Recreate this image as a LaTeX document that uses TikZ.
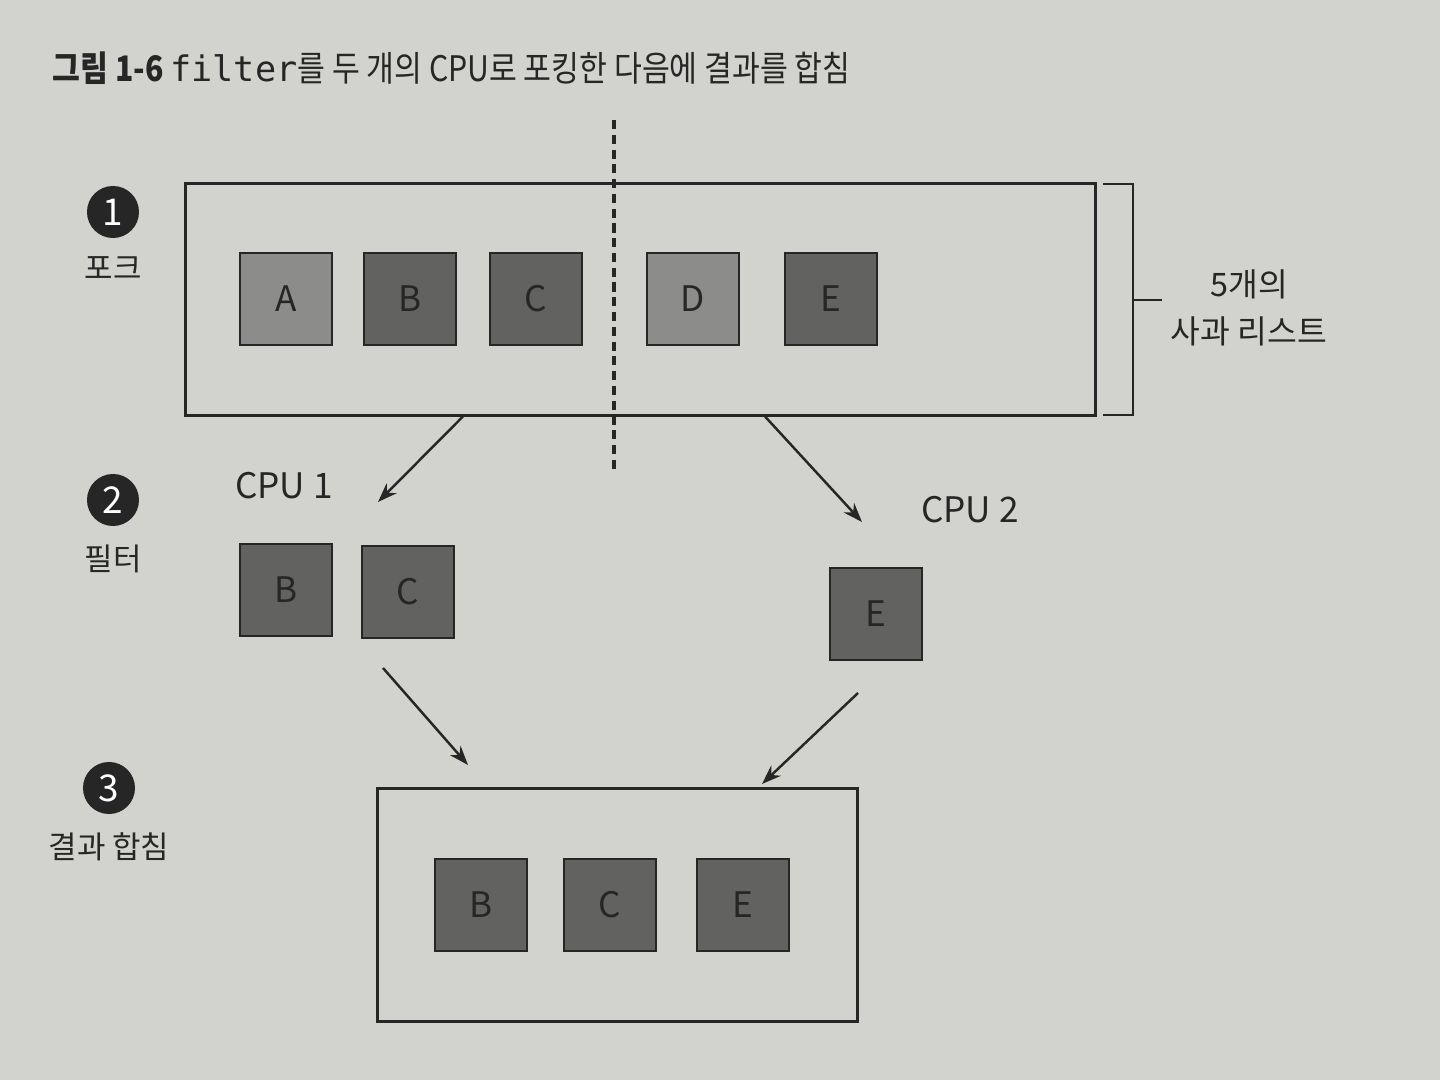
\documentclass[tikz,border=0pt]{standalone}
\usepackage{fontspec}
\setmainfont{Noto Sans CJK KR}
\newfontfamily\titlefont[FakeStretch=0.86]{Noto Sans CJK KR}
\newfontfamily\codefont{DejaVu Sans Mono}
\usetikzlibrary{positioning,arrows.meta}
\definecolor{paper}{RGB}{210,210,206}
\definecolor{applelight}{RGB}{140,140,138}
\definecolor{appledark}{RGB}{98,98,97}
\definecolor{ink}{RGB}{38,38,38}
\begin{document}
\begin{tikzpicture}[x=0.01cm,y=-0.01cm,
  frame/.style={draw=ink,line width=0.85pt,inner sep=0pt},
  apple/.style={draw=ink,line width=0.8pt,minimum size=0.92cm,inner sep=0pt,
    text=ink,font=\fontsize{10}{10}\selectfont},
  stepdot/.style={circle,fill=ink,minimum size=0.52cm,inner sep=0pt,
    text=white,font=\fontsize{10.5}{10.5}\selectfont},
  steplabel/.style={text=ink,font=\fontsize{8.8}{8.8}\selectfont},
  cpulabel/.style={text=ink,font=\fontsize{10}{10}\selectfont},
  arr/.style={draw=ink,line width=0.7pt,-{Stealth[length=5.5pt,width=4pt]}}]
\fill[paper] (0,0) rectangle (1440,1080);
\useasboundingbox (0,0) rectangle (1440,1080);
% title
\node[anchor=west,inner sep=0pt,text=ink,font=\titlefont\fontsize{10}{10}\selectfont] (title) at (52,68)
  {{\bfseries 그림 1-6} {\codefont filter}를 두 개의 CPU로 포킹한 다음에 결과를 합침};
% steps
\node[stepdot] (s1) at (113,212) {1};
\node[steplabel,below=1.5pt of s1] (l1) {포크};
\node[stepdot] (s2) at (113,500) {2};
\node[steplabel,below=1.5pt of s2] (l2) {필터};
\node[stepdot] (s3) at (109,788) {3};
\node[steplabel,below=1.5pt of s3] (l3) {결과 합침};
% 1: fork
\node[frame,minimum width=9.09cm,minimum height=2.31cm] (list) at (640.5,299.5) {};
\foreach \n/\x/\c in {A/286/applelight,B/410/appledark,C/536/appledark,D/693/applelight,E/831/appledark}
  \node[apple,fill=\c] (top\n) at (\x,299) {\n};
\draw[ink,line width=1pt,dash pattern=on 2.6pt off 1.6pt] (614,120) -- (614,470);
\coordinate (bt) at (1103,184);
\coordinate (bb) at (1103,415);
\draw[ink,line width=0.8pt] (bt) -- ++(30,0) -- ++(0,231) -- (bb);
\draw[ink,line width=0.8pt] (1133,300) -- (1162,300);
\node[steplabel,align=center,font=\fontsize{9.2}{9.2}\selectfont] (listlabel) at (1249,308) {5개의\\[4pt]사과 리스트};
% 2: filter
\coordinate (cpu1in) at (378,502);
\coordinate (cpu2in) at (862,522);
\draw[arr] ([xshift=-1.775cm]list.south) -- (cpu1in);
\draw[arr] ([xshift=1.245cm]list.south) -- (cpu2in);
\node[cpulabel] (cpu1) at (284,486) {CPU 1};
\node[cpulabel] (cpu2) at (970,510) {CPU 2};
\node[apple,fill=appledark] (midB) at (286,590) {B};
\node[apple,fill=appledark] (midC) at (408,592) {C};
\node[apple,fill=appledark] (midE) at (876,614) {E};
% 3: join
\node[frame,minimum width=4.79cm,minimum height=2.33cm] (result) at (617.5,905) {};
\coordinate (join1) at (383,668);
\coordinate (join2) at (858,693);
\coordinate (res1) at (468,765);
\coordinate (res2) at (762,784);
\draw[arr] (join1) -- (res1);
\draw[arr] (join2) -- (res2);
\foreach \n/\x in {B/481,C/610,E/743}
  \node[apple,fill=appledark] (bot\n) at (\x,905) {\n};
\end{tikzpicture}
\end{document}
